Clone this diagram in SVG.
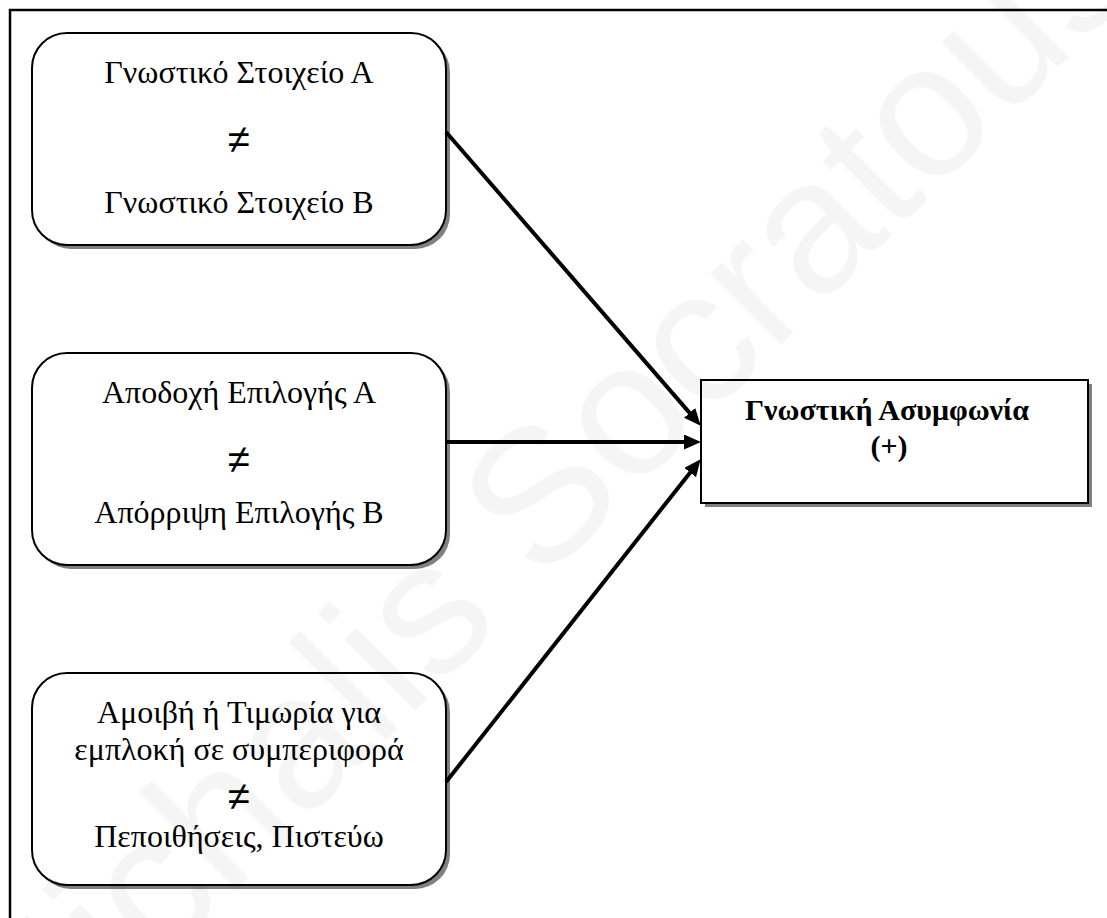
<svg xmlns="http://www.w3.org/2000/svg" width="1107" height="918" viewBox="0 0 1107 918">
  <style>
    .box { fill: #ffffff; stroke: #000000; stroke-width: 2; }
    .shadow { fill: #808080; }
    .t { font-family: "Liberation Serif", "Times New Roman", serif; font-size: 32px; text-anchor: middle; fill: #000000; }
    .b { font-weight: bold; font-size: 30px; }
    .ne { font-family: "Liberation Sans", Arial, sans-serif; font-size: 40px; text-anchor: middle; fill: #000000; }
    .conn { stroke: #000000; stroke-width: 4; fill: none; }
    .wm { font-family: "Liberation Sans", Arial, sans-serif; font-size: 190px; text-anchor: middle; fill: #000000; fill-opacity: 0.04; }
  </style>
  <defs>
    <marker id="arrow" markerUnits="userSpaceOnUse" markerWidth="18" markerHeight="15" refX="4" refY="7.5" orient="auto">
      <path d="M0,0 L17,7.5 L0,15 Z" fill="#000000"/>
    </marker>
  </defs>
  <rect width="1107" height="918" fill="#ffffff"/>
  <path id="frame" d="M10,918 V10 H1107" fill="none" stroke="#000000" stroke-width="2.5"/>

  <g id="node-a">
    <rect class="shadow" x="36" y="37" width="414" height="212" rx="35"/>
    <rect class="box" x="32" y="33" width="414" height="212" rx="35"/>
    <text class="t" x="239" y="83">Γνωστικό Στοιχείο Α</text>
    <text class="ne" x="239" y="153">≠</text>
    <text class="t" x="239" y="213">Γνωστικό Στοιχείο Β</text>
  </g>

  <g id="node-b">
    <rect class="shadow" x="36" y="357" width="414" height="212" rx="35"/>
    <rect class="box" x="32" y="353" width="414" height="212" rx="35"/>
    <text class="t" x="239" y="403">Αποδοχή Επιλογής Α</text>
    <text class="ne" x="239" y="473">≠</text>
    <text class="t" x="239" y="523">Απόρριψη Επιλογής Β</text>
  </g>

  <g id="node-c">
    <rect class="shadow" x="36" y="677" width="414" height="212" rx="35"/>
    <rect class="box" x="32" y="673" width="414" height="212" rx="35"/>
    <text class="t" x="239" y="723">Αμοιβή ή Τιμωρία για</text>
    <text class="t" x="239" y="760">εμπλοκή σε συμπεριφορά</text>
    <text class="ne" x="239" y="810">≠</text>
    <text class="t" x="239" y="847">Πεποιθήσεις, Πιστεύω</text>
  </g>

  <g id="node-dissonance">
    <rect class="shadow" x="705" y="384" width="387" height="123"/>
    <rect class="box" x="701" y="380" width="387" height="123"/>
    <text class="t b" x="887" y="420">Γνωστική Ασυμφωνία</text>
    <text class="t b" x="889" y="456">(+)</text>
  </g>

  <g id="connectors">
    <line class="conn" x1="446" y1="132" x2="692.2" y2="415.9" marker-end="url(#arrow)"/>
    <line class="conn" x1="447" y1="442" x2="688" y2="442" marker-end="url(#arrow)"/>
    <line class="conn" x1="446" y1="782" x2="692.6" y2="469.4" marker-end="url(#arrow)"/>
  </g>

  <text class="wm" x="582" y="544" transform="rotate(-45 582 544)">Michalis Socratous</text>
</svg>
